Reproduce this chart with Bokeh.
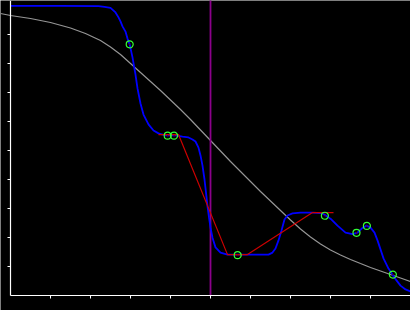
from bokeh.plotting import figure
from bokeh.models import Range1d, FixedTicker
from bokeh.embed import file_html
from bokeh.resources import INLINE

# ---- data ----
grey_x = [-0.25, 0.0, 0.5, 1.0, 1.5, 1.875, 2.25, 2.5, 2.75, 3.0, 3.25, 3.5, 3.75, 4.0,
          4.25, 4.5, 4.75, 5.0, 5.25, 5.5, 5.75, 6.0, 6.25, 6.5, 6.75, 7.0, 7.25, 7.5,
          7.75, 8.0, 8.25, 8.5, 8.75, 9.0, 9.25, 9.5, 9.75, 10.0]
grey_y = [9.724, 9.655, 9.552, 9.414, 9.224, 9.034, 8.793, 8.569, 8.310, 8.0, 7.690, 7.379,
          7.069, 6.741, 6.414, 6.069, 5.707, 5.345, 4.983, 4.621, 4.276, 3.931, 3.586,
          3.259, 2.931, 2.603, 2.293, 2.017, 1.776, 1.569, 1.397, 1.241, 1.103, 0.966,
          0.845, 0.724, 0.603, 0.483]

blue_x = [0.0, 1.25, 2.2, 2.35, 2.5, 2.625, 2.7, 2.75, 2.8, 2.875, 2.925, 2.98, 3.05, 3.125,
          3.175, 3.25, 3.325, 3.45, 3.575, 3.7, 3.875, 4.125, 4.3, 4.45, 4.55, 4.625, 4.7,
          4.75, 4.8, 4.85, 4.8875, 4.925, 4.9625, 5.0, 5.05, 5.125, 5.25, 5.425, 5.75, 6.125,
          6.45, 6.55, 6.625, 6.7, 6.775, 6.85, 6.925, 7.05, 7.25, 7.575, 7.8, 7.925, 8.025,
          8.175, 8.375, 8.55, 8.675, 8.8, 8.9, 9.0, 9.1, 9.175, 9.25, 9.325, 9.45, 9.55,
          9.65, 9.75, 9.875, 10.0]
blue_y = [9.99, 9.99, 9.98, 9.95, 9.92, 9.76, 9.59, 9.45, 9.28, 9.10, 8.86, 8.66, 8.21, 7.62,
          7.14, 6.62, 6.24, 5.90, 5.69, 5.59, 5.52, 5.52, 5.48, 5.45, 5.38, 5.31, 5.10,
          4.83, 4.48, 4.00, 3.55, 3.07, 2.69, 2.34, 1.99, 1.66, 1.48, 1.41, 1.41, 1.41,
          1.41, 1.48, 1.62, 1.90, 2.24, 2.62, 2.76, 2.83, 2.86, 2.86, 2.83, 2.72, 2.62,
          2.41, 2.17, 2.12, 2.17, 2.33, 2.41, 2.34, 2.17, 1.90, 1.59, 1.28, 0.93, 0.72,
          0.52, 0.34, 0.21, 0.14]

red_x = [3.7, 4.2, 5.425, 5.925, 7.55, 8.075]
red_y = [5.55, 5.55, 1.41, 1.41, 2.86, 2.86]

pts_x = [2.98, 3.93, 4.09, 5.68, 7.86, 8.65, 8.91, 9.56]
pts_y = [8.66, 5.51, 5.51, 1.39, 2.75, 2.16, 2.40, 0.72]

vline_x = 5.0
tick_values = [1, 2, 3, 4, 5, 6, 7, 8, 9]

# ---- figure ----
p = figure(width=410, height=310, output_backend="svg", toolbar_location=None,
           x_range=Range1d(-0.25, 10.0), y_range=Range1d(-15 / 29, 295 / 29),
           min_border=0)
p.background_fill_color = "black"
p.border_fill_color = "black"
p.outline_line_color = None
p.grid.visible = False

for ax, bnds in ((p.xaxis, (0, 10)), (p.yaxis, (0, 10.3))):
    ax.fixed_location = 0
    ax.bounds = bnds
    ax.ticker = FixedTicker(ticks=tick_values)
    ax.major_label_overrides = {t: "" for t in tick_values}
    ax.major_label_text_font_size = "1px"
    ax.minor_tick_line_color = None
    ax.major_tick_out = 3
    ax.major_tick_in = 0
    ax.axis_line_color = "white"
    ax.major_tick_line_color = "white"
    ax.axis_line_width = 1.2

p.line(grey_x, grey_y, line_color="#959595", line_width=1.2)
p.segment(x0=[vline_x], y0=[0], x1=[vline_x], y1=[10.3], line_color="#8b008b", line_width=1.8)
p.line(blue_x, blue_y, line_color="#0000ff", line_width=1.8)
p.line(red_x, red_y, line_color="#cc0000", line_width=1.2)
p.scatter(pts_x, pts_y, marker="circle", size=7, fill_color=None,
          line_color="#33ff33", line_width=1.2)
p.scatter(pts_x, pts_y, marker="circle", size=1.5, fill_color="#700000",
          line_color=None)

open("out.html", "w").write(file_html(p, INLINE))
